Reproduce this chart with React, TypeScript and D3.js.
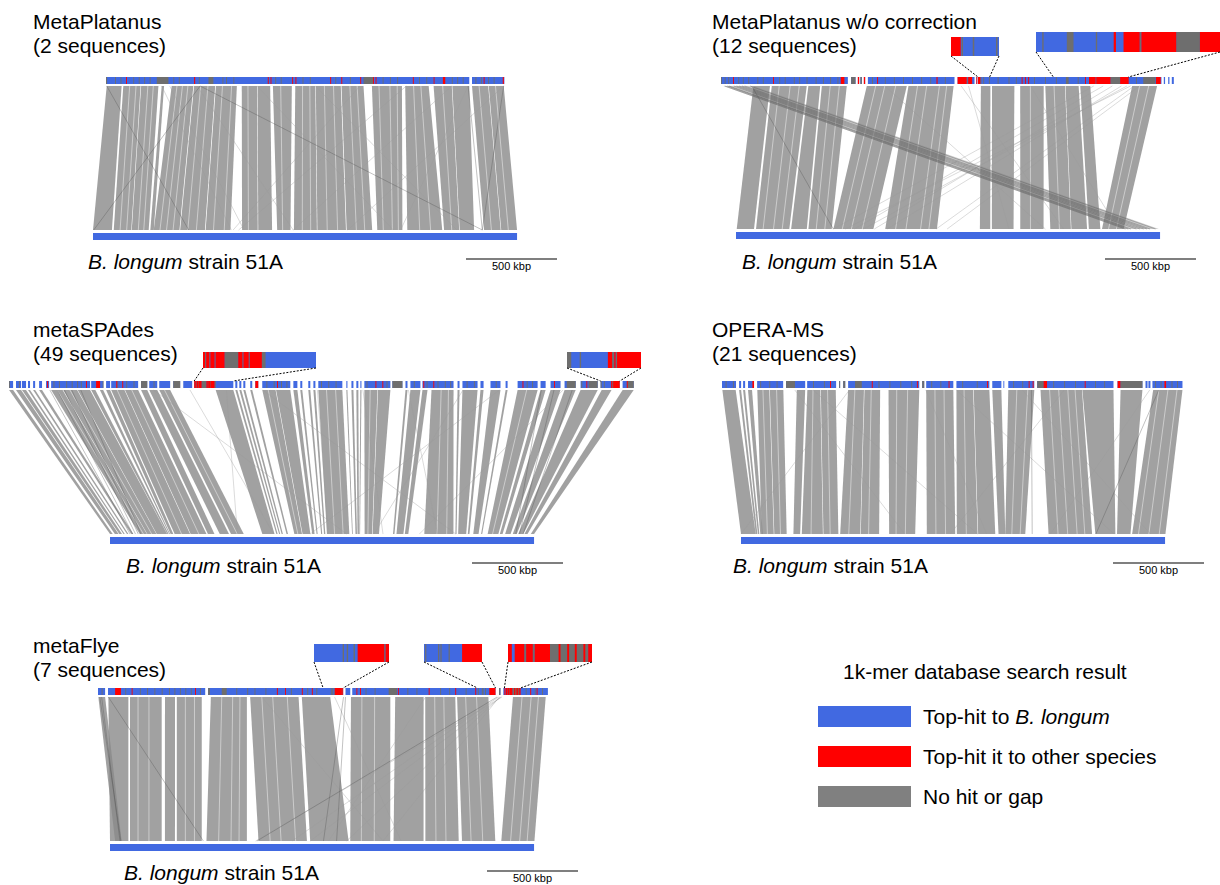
import React from 'react';
import * as d3 from 'd3';

// genome lengths / scale (kbp)
const REF_LEN = 2330;
const SCALE_KBP = 500;

// ---------- MetaPlatanus ----------
const P1_CONTIGS = [[0, 1996], [2011, 2189]];
const P1_RED = [[110, 115], [484, 490], [889, 893], [904, 909], [1023, 1028], [1041, 1045], [1232, 1237], [1293, 1298], [1397, 1402], [1467, 1472], [1481, 1486], [1686, 1691], [1800, 1805], [1851, 1864], [2075, 2080], [2180, 2186]];
const P1_GRAY = [[0, 6], [50, 53], [80, 83], [150, 153], [180, 183], [210, 213], [240, 243], [279, 343], [370, 373], [400, 403], [510, 514], [563, 590], [640, 643], [660, 663], [700, 703], [930, 933], [960, 963], [1080, 1083], [1120, 1123], [1260, 1263], [1340, 1343], [1415, 1467], [1520, 1523], [1560, 1563], [1600, 1603], [1720, 1723], [1760, 1763], [1900, 1904], [1930, 1933], [1960, 1963], [2030, 2033], [2060, 2063], [2100, 2103], [2130, 2133]];
const P1_BLOCKS = [[4, 86, 0, 104], [95, 190, 114, 210], [193, 288, 213, 306], [306, 319, 315, 334], [361, 480, 334, 475], [484, 600, 479, 615], [604, 719, 619, 755], [746, 830, 819, 905], [833, 902, 908, 984], [917, 1021, 1012, 1085], [1040, 1150, 1104, 1230], [1153, 1290, 1233, 1390], [1294, 1415, 1394, 1534], [1461, 1626, 1562, 1700], [1644, 1773, 1727, 1919], [1800, 1900, 1929, 2012], [1903, 1996, 2015, 2094], [2011, 2100, 2149, 2240], [2103, 2185, 2243, 2330]];
const P1_BREAKS = [[130, 149], [165, 185], [230, 249], [260, 279], [390, 368], [420, 404], [450, 440], [520, 521], [560, 568], [640, 662], [690, 721], [780, 854], [960, 1042], [1080, 1150], [1120, 1196], [1200, 1287], [1250, 1344], [1340, 1447], [1380, 1493], [1500, 1595], [1560, 1645], [1600, 1678], [1690, 1795], [1730, 1855], [1850, 1971], [2050, 2189], [2140, 2282]];
const P1_DARK = [[4, 526], [517, 4], [517, 2139], [2185, 2139], [1990, 2139]];
const P1_FAINT = [[306, 760], [350, 830], [1395, 770], [1650, 800], [1900, 1100], [1150, 2000], [830, 1650], [1990, 1690], [500, 1100], [2185, 1400]];

// ---------- MetaPlatanus w/o correction ----------
const P2_CONTIGS = [[0, 697], [715, 739], [752, 759], [766, 774], [785, 792], [807, 1283], [1300, 1393], [1403, 1408], [1412, 2420], [2433, 2440], [2457, 2464], [2477, 2488]];
const P2_RED = [[66, 70], [286, 290], [658, 678], [752, 759], [785, 792], [858, 862], [1184, 1190], [1300, 1350], [1358, 1380], [1403, 1408], [1412, 1425], [1652, 1656], [1670, 1673], [1688, 1691], [2000, 2005], [2022, 2058], [2062, 2140], [2193, 2240], [2390, 2416]];
const P2_GRAY = [[0, 4], [20, 23], [40, 43], [95, 98], [120, 123], [150, 153], [200, 203], [230, 233], [320, 323], [350, 353], [400, 403], [430, 433], [470, 473], [520, 523], [560, 563], [600, 603], [640, 643], [715, 739], [766, 774], [830, 833], [900, 903], [950, 953], [1000, 1003], [1050, 1053], [1100, 1103], [1150, 1153], [1230, 1233], [1350, 1355], [1426, 1428], [1441, 1443], [1472, 1474], [1520, 1523], [1580, 1583], [1620, 1623], [1720, 1723], [1780, 1783], [1840, 1843], [1895, 1910], [1960, 1963], [2058, 2062], [2140, 2193], [2280, 2283], [2320, 2387]];
const P2_BLOCKS = [[178, 269, 4, 99], [279, 471, 110, 293], [480, 545, 303, 389], [554, 691, 398, 526], [801, 1021, 535, 755], [1030, 1278, 820, 1104], [1428, 1480, 1340, 1397], [1489, 1612, 1406, 1525], [1644, 1773, 1562, 1690], [1782, 1890, 1727, 1840], [1893, 1965, 1843, 1929], [1974, 2029, 1939, 2002], [2259, 2396, 2011, 2130]];
const P2_BREAKS = [[320, 149], [380, 206], [430, 254], [600, 441], [650, 488], [850, 584], [900, 634], [960, 694], [1080, 877], [1130, 934], [1200, 1014], [1240, 1060], [1700, 1618], [1830, 1777], [2300, 2047], [2350, 2090]];
const P2_CROSS = [[13, 178, 2130, 2323]];
const P2_DARK = [[20, 2140], [45, 2170], [70, 2200], [100, 2240], [130, 2275], [160, 2305], [169, 535], [35, 2155], [85, 2220], [115, 2258]];
const P2_FAINT = [[2048, 535], [2100, 650], [2150, 760], [2200, 830], [2230, 700], [2250, 600], [2270, 1100], [2300, 1160], [1320, 1800], [1360, 1500], [900, 1700], [1700, 2100]];

// ---------- metaSPAdes ----------
const P3_CONTIGS = [[6, 28], [44, 72], [77, 99], [110, 121], [138, 149], [171, 187], [209, 226], [237, 451], [457, 523], [539, 561], [567, 715], [731, 765], [776, 820], [831, 891], [908, 946], [963, 1012], [1023, 1238], [1249, 1260], [1271, 1282], [1293, 1304], [1331, 1342], [1359, 1375], [1397, 1551], [1568, 1590], [1606, 1617], [1650, 1661], [1678, 1689], [1705, 1837], [1859, 1865], [1887, 1898], [1914, 1925], [1936, 1942], [1958, 2101], [2112, 2167], [2184, 2195], [2211, 2266], [2277, 2448], [2470, 2481], [2497, 2580], [2596, 2613], [2651, 2706], [2734, 2745], [2800, 2910], [2926, 2954], [2981, 3036], [3058, 3119], [3146, 3240], [3256, 3361], [3377, 3438]];
const P3_RED = [[215, 220], [429, 433], [484, 506], [595, 599], [628, 632], [1023, 1027], [1029, 1035], [1037, 1045], [1047, 1064], [1090, 1098], [1100, 1110], [1112, 1135], [1359, 1375], [1478, 1481], [2019, 2023], [2057, 2061], [2282, 2286], [2337, 2341], [2827, 2831], [3000, 3004], [3178, 3182], [3314, 3320], [3323, 3325], [3327, 3361], [3400, 3404]];
const P3_GRAY = [[6, 9], [60, 63], [250, 253], [280, 283], [320, 323], [350, 353], [380, 383], [400, 403], [520, 523], [600, 603], [650, 653], [690, 693], [731, 765], [800, 803], [908, 946], [1027, 1029], [1035, 1037], [1045, 1047], [1064, 1090], [1098, 1100], [1110, 1112], [1135, 1142], [1420, 1423], [1460, 1463], [1500, 1503], [1530, 1533], [1720, 1723], [1760, 1763], [1800, 1803], [1970, 1973], [2080, 2083], [2112, 2167], [2230, 2233], [2300, 2303], [2360, 2363], [2400, 2403], [2430, 2433], [2520, 2523], [2560, 2563], [2680, 2683], [2850, 2853], [2880, 2883], [3070, 3119], [3150, 3153], [3190, 3240], [3256, 3262], [3274, 3276], [3320, 3323], [3325, 3327], [3400, 3438]];
const P3_BLOCKS = [[6, 28, 0, 15], [44, 72, 27, 47], [77, 99, 51, 66], [110, 121, 74, 81], [138, 149, 93, 101], [171, 187, 116, 128], [237, 300, 163, 203], [303, 380, 205, 255], [383, 451, 257, 314], [457, 480, 315, 322], [505, 523, 325, 330], [539, 561, 333, 348], [567, 640, 355, 440], [643, 715, 443, 530], [731, 765, 538, 574], [776, 820, 603, 654], [831, 891, 665, 735], [1141, 1238, 837, 904], [1249, 1260, 914, 921], [1271, 1282, 929, 935], [1293, 1304, 943, 950], [1331, 1342, 970, 978], [1397, 1470, 1013, 1055], [1473, 1551, 1058, 1101], [1568, 1590, 1111, 1124], [1606, 1617, 1135, 1141], [1650, 1661, 1160, 1166], [1678, 1689, 1176, 1183], [1705, 1837, 1192, 1315], [1859, 1865, 1330, 1334], [1887, 1898, 1349, 1357], [1914, 1925, 1360, 1368], [1936, 1942, 1370, 1374], [1958, 2030, 1399, 1440], [2033, 2101, 1443, 1478], [2184, 2195, 1555, 1563], [2211, 2266, 1574, 1612], [2277, 2305, 1620, 1639], [2327, 2448, 1727, 1887], [2470, 2481, 1898, 1904], [2497, 2580, 1913, 1957], [2596, 2613, 1966, 1975], [2651, 2706, 1996, 2025], [2734, 2745, 2039, 2045], [2800, 2910, 2075, 2134], [2926, 2954, 2142, 2157], [2981, 3036, 2171, 2201], [3058, 3119, 2213, 2235], [3146, 3240, 2243, 2271], [3262, 3316, 2277, 2294], [3377, 3438, 2312, 2330]];
const P3_BREAKS = [[270, 184], [340, 229], [600, 393], [680, 488], [860, 699], [1750, 1234], [1800, 1281], [2380, 1797], [2420, 1850], [2850, 2102], [1430, 1032], [1990, 1417]];
const P3_DARK = [[230, 110], [270, 125], [310, 140], [350, 155], [400, 170], [2930, 2230], [3000, 2250], [3100, 2270]];
const P3_FAINT = [[1000, 900], [1400, 1900], [1700, 1200], [2500, 1450], [800, 1300], [1950, 1500], [2700, 1100], [1200, 700], [2200, 1800], [3050, 1700]];

// ---------- OPERA-MS ----------
const P4_CONTIGS = [[0, 77], [94, 105], [116, 127], [143, 176], [193, 336], [352, 457], [468, 627], [644, 649], [666, 677], [693, 1084], [1100, 1111], [1122, 1271], [1288, 1469], [1485, 1535], [1546, 1551], [1573, 1716], [1732, 2151], [2173, 2310], [2327, 2338], [2343, 2354], [2365, 2530]];
const P4_RED = [[167, 176], [594, 598], [823, 827], [1071, 1075], [1245, 1249], [1456, 1460], [1685, 1689], [1707, 1711], [1767, 1786], [1993, 1997], [2174, 2189], [2431, 2440]];
const P4_GRAY = [[20, 23], [60, 63], [210, 213], [260, 263], [300, 303], [352, 401], [500, 503], [560, 563], [644, 649], [666, 677], [731, 768], [860, 863], [920, 923], [980, 983], [1040, 1043], [1100, 1111], [1150, 1153], [1200, 1203], [1320, 1323], [1400, 1403], [1600, 1603], [1650, 1653], [1731, 1767], [1820, 1823], [1880, 1883], [1940, 1943], [2050, 2053], [2100, 2103], [2189, 2310], [2380, 2383], [2410, 2413], [2470, 2473], [2500, 2503]];
const P4_BLOCKS = [[2, 75, 0, 81], [94, 105, 81, 90], [116, 127, 93, 101], [143, 165, 106, 120], [194, 260, 114, 180], [263, 337, 183, 251], [411, 457, 288, 325], [469, 540, 334, 450], [543, 625, 453, 535], [693, 780, 545, 655], [783, 869, 658, 759], [915, 1084, 814, 957], [1122, 1271, 1021, 1177], [1288, 1380, 1186, 1300], [1383, 1469, 1303, 1397], [1485, 1535, 1415, 1452], [1573, 1716, 1452, 1562], [1750, 1978, 1690, 1929], [1980, 2151, 1947, 2057], [2190, 2310, 2066, 2140], [2369, 2530, 2149, 2332]];
const P4_BREAKS = [[225, 145], [300, 217], [500, 385], [580, 490], [730, 592], [820, 701], [960, 852], [1020, 903], [1170, 1071], [1220, 1124], [1330, 1238], [1620, 1488], [1680, 1534], [1800, 1742], [1850, 1795], [1900, 1847], [1940, 1889], [2400, 2184], [2450, 2241], [2500, 2298]];
const P4_DARK = [[1700, 1600], [2400, 1950]];
const P4_FAINT = [[500, 1300], [1120, 1350], [1880, 1150], [1288, 2050], [700, 0], [1650, 2250], [2350, 1700], [400, 900]];

// ---------- metaFlye ----------
const P5_CONTIGS = [[0, 39], [55, 589], [605, 1347], [1360, 1386], [1397, 2184], [2204, 2211], [2227, 2472]];
const P5_RED = [[94, 126], [185, 189], [533, 537], [983, 987], [1028, 1032], [1120, 1124], [1175, 1179], [1301, 1340], [1342, 1347], [1420, 1424], [1440, 1444], [1648, 1652], [1817, 1821], [1963, 1967], [2073, 2077], [2150, 2184], [2233, 2237], [2240, 2250], [2252, 2259], [2261, 2277], [2286, 2288], [2295, 2297], [2303, 2305], [2312, 2314], [2317, 2321], [2375, 2379], [2410, 2414]];
const P5_GRAY = [[20, 23], [150, 153], [230, 233], [270, 273], [310, 313], [350, 353], [390, 393], [420, 423], [450, 453], [480, 483], [510, 513], [560, 563], [605, 615], [680, 707], [760, 763], [820, 823], [860, 863], [920, 923], [1060, 1063], [1150, 1153], [1200, 1203], [1279, 1281], [1285, 1287], [1295, 1297], [1340, 1342], [1470, 1473], [1520, 1523], [1597, 1643], [1700, 1703], [1750, 1753], [1880, 1883], [1930, 1933], [2020, 2023], [2087, 2089], [2109, 2111], [2113, 2115], [2127, 2129], [2204, 2211], [2250, 2252], [2259, 2261], [2277, 2317], [2350, 2353], [2400, 2403], [2440, 2443]];
const P5_BLOCKS = [[2, 39, 28, 64], [57, 167, 0, 101], [176, 350, 110, 284], [368, 423, 302, 357], [433, 570, 367, 504], [620, 818, 530, 752], [836, 1102, 816, 1082], [1120, 1276, 1100, 1311], [1390, 1606, 1320, 1540], [1633, 1789, 1558, 1723], [1798, 1963, 1733, 1916], [1973, 2145, 1934, 2117], [2280, 2460, 2150, 2332]];
const P5_BREAKS = [[220, 154], [280, 214], [480, 414], [530, 464], [680, 597], [740, 665], [780, 709], [900, 880], [960, 940], [1040, 1020], [1450, 1381], [1520, 1452], [1850, 1791], [1900, 1846], [2020, 1984], [2080, 2048], [2330, 2201], [2380, 2251], [2420, 2292]];
const P5_DARK = [[10, 60], [20, 55], [57, 513], [1349, 1173], [2193, 807], [1360, 1245]];
const P5_FAINT = [[2220, 800], [2215, 1100], [2210, 1300], [2205, 1500], [2200, 1000], [1300, 1600], [1800, 1200], [900, 1500]];

const LEGEND = [
  { label: 'Top-hit to ', italic: 'B. longum', color: '#4169e1' },
  { label: 'Top-hit it to other species', italic: '', color: '#ff0000' },
  { label: 'No hit or gap', italic: '', color: '#808080' },
];

const BLUE = '#4169e1';
const RED = '#ff0000';
const DGRAY = '#6e6e6e';
const FONT = '"Liberation Sans", Arial, Helvetica, sans-serif';

const PANELS = [
  {
    title: 'MetaPlatanus', count: '(2 sequences)',
    contigs: P1_CONTIGS, red: P1_RED, gray: P1_GRAY, blocks: P1_BLOCKS, breaks: P1_BREAKS, cross: [], dark: P1_DARK, faint: P1_FAINT,
    insets: [],
    layout: { tx: 33, ty: 29, topX: 106, topY: 77, refX: 93, refY: 233, lx: 88, ly: 269, sx: 466, sy: 259 },
  },
  {
    title: 'MetaPlatanus w/o correction', count: '(12 sequences)',
    contigs: P2_CONTIGS, red: P2_RED, gray: P2_GRAY, blocks: P2_BLOCKS, breaks: P2_BREAKS, cross: P2_CROSS, dark: P2_DARK, faint: P2_FAINT,
    insets: [
      { range: [1412, 1476], box: { x: 951, y: 37, w: 48, h: 19 } },
      { range: [1826, 2238], box: { x: 1036, y: 32, w: 184, h: 20 } },
    ],
    layout: { tx: 712, ty: 29, topX: 721, topY: 77, refX: 736, refY: 232, lx: 742, ly: 269, sx: 1105, sy: 259 },
  },
  {
    title: 'metaSPAdes', count: '(49 sequences)',
    contigs: P3_CONTIGS, red: P3_RED, gray: P3_GRAY, blocks: P3_BLOCKS, breaks: P3_BREAKS, cross: [], dark: P3_DARK, faint: P3_FAINT,
    insets: [
      { range: [1023, 1238], box: { x: 203, y: 352, w: 113, h: 16 } },
      { range: [3256, 3361], box: { x: 567, y: 352, w: 74, h: 16 } },
    ],
    layout: { tx: 33, ty: 337, topX: 8, topY: 381, refX: 110, refY: 537, lx: 126, ly: 573, sx: 472, sy: 563 },
  },
  {
    title: 'OPERA-MS', count: '(21 sequences)',
    contigs: P4_CONTIGS, red: P4_RED, gray: P4_GRAY, blocks: P4_BLOCKS, breaks: P4_BREAKS, cross: [], dark: P4_DARK, faint: P4_FAINT,
    insets: [],
    layout: { tx: 712, ty: 337, topX: 722, topY: 381, refX: 741, refY: 537, lx: 733, ly: 573, sx: 1113, sy: 563 },
  },
  {
    title: 'metaFlye', count: '(7 sequences)',
    contigs: P5_CONTIGS, red: P5_RED, gray: P5_GRAY, blocks: P5_BLOCKS, breaks: P5_BREAKS, cross: [], dark: P5_DARK, faint: P5_FAINT,
    insets: [
      { range: [1237, 1347], box: { x: 314, y: 644, w: 75, h: 18 } },
      { range: [2085, 2184], box: { x: 424, y: 644, w: 58, h: 18 } },
      { range: [2233, 2321], box: { x: 508, y: 644, w: 84, h: 18 } },
    ],
    layout: { tx: 33, ty: 653, topX: 98, topY: 688, refX: 110, refY: 844, lx: 124, ly: 880, sx: 487, sy: 871 },
  },
];

const SCALE_PX = 91; // px per 500 kbp

function Segments({ segs, scale, y, h, color, lo, hi }) {
  return segs
    .filter(([s, e]) => e > lo && s < hi)
    .map(([s, e], i) => {
      const x0 = scale(Math.max(s, lo));
      const x1 = scale(Math.min(e, hi));
      return <rect key={i} x={x0} y={y} width={Math.max(x1 - x0, 0.9)} height={h} fill={color} />;
    });
}

function Panel({ p }) {
  const L = p.layout;
  const top = d3.scaleLinear().domain([0, SCALE_KBP]).range([L.topX, L.topX + SCALE_PX]);
  const ref = d3.scaleLinear().domain([0, SCALE_KBP]).range([L.refX, L.refX + SCALE_PX]);
  const yT = L.topY + 9;
  const yB = L.refY - 3;
  const poly = d3.line();
  const band = ([qs, qe, rs, re]) =>
    poly([[top(qs), yT], [top(qe), yT], [ref(re), yB], [ref(rs), yB]]) + 'Z';

  return (
    <g>
      <text x={L.tx} y={L.ty} fontSize={21}>{p.title}</text>
      <text x={L.tx} y={L.ty + 24} fontSize={21}>{p.count}</text>

      {/* alignment bands */}
      {p.blocks.map((b, i) => (
        <path key={'b' + i} d={band(b)} fill="#8a8a8a" fillOpacity={0.8} />
      ))}
      {p.breaks.map(([q, r], i) => (
        <line key={'w' + i} x1={top(q)} y1={yT} x2={ref(r)} y2={yB} stroke="#fff" strokeWidth={0.7} strokeOpacity={0.65} />
      ))}
      {p.cross.map((b, i) => (
        <path key={'c' + i} d={band(b)} fill="#8a8a8a" fillOpacity={0.45} />
      ))}
      {p.faint.map(([q, r], i) => (
        <line key={'f' + i} x1={top(q)} y1={yT} x2={ref(r)} y2={yB} stroke="#9a9a9a" strokeWidth={0.6} strokeOpacity={0.6} />
      ))}
      {p.dark.map(([q, r], i) => (
        <line key={'d' + i} x1={top(q)} y1={yT} x2={ref(r)} y2={yB} stroke="#555" strokeWidth={0.6} strokeOpacity={0.6} />
      ))}

      {/* assembly bar */}
      {p.contigs.map(([s, e], i) => (
        <g key={'k' + i}>
          <rect x={top(s)} y={L.topY} width={Math.max(top(e) - top(s), 0.9)} height={7} fill={BLUE} />
          <Segments segs={p.gray} scale={top} y={L.topY} h={7} color={DGRAY} lo={s} hi={e} />
          <Segments segs={p.red} scale={top} y={L.topY} h={7} color={RED} lo={s} hi={e} />
        </g>
      ))}

      {/* reference bar */}
      <rect x={ref(0)} y={L.refY} width={ref(REF_LEN) - ref(0)} height={7} fill={BLUE} />

      {/* zoomed insets */}
      {p.insets.map((ins, i) => {
        const [lo, hi] = ins.range;
        const b = ins.box;
        const zs = d3.scaleLinear().domain([lo, hi]).range([b.x, b.x + b.w]);
        return (
          <g key={'i' + i}>
            <rect x={b.x} y={b.y} width={b.w} height={b.h} fill={BLUE} />
            <Segments segs={p.gray} scale={zs} y={b.y} h={b.h} color={DGRAY} lo={lo} hi={hi} />
            <Segments segs={p.red} scale={zs} y={b.y} h={b.h} color={RED} lo={lo} hi={hi} />
            <line x1={b.x} y1={b.y + b.h} x2={top(lo)} y2={L.topY} stroke="#000" strokeWidth={1} strokeDasharray="2,1.5" />
            <line x1={b.x + b.w} y1={b.y + b.h} x2={top(hi)} y2={L.topY} stroke="#000" strokeWidth={1} strokeDasharray="2,1.5" />
          </g>
        );
      })}

      <text x={L.lx} y={L.ly} fontSize={21}>
        <tspan fontStyle="italic">B. longum</tspan> strain 51A
      </text>

      {/* scale bar */}
      <line x1={L.sx} y1={L.sy} x2={L.sx + (ref(SCALE_KBP) - ref(0))} y2={L.sy} stroke="#000" strokeWidth={1.2} />
      <text x={L.sx + SCALE_PX / 2} y={L.sy + 11} fontSize={11} textAnchor="middle">500 kbp</text>
    </g>
  );
}

export default function App() {
  return (
    <svg
      width={1220}
      height={885}
      style={{ position: 'absolute', left: 0, top: 0, background: '#fff' }}
      fontFamily={FONT}
    >
      <rect width={1220} height={885} fill="#fff" />
      {PANELS.map((p, i) => <Panel key={i} p={p} />)}

      {/* legend */}
      <text x={843} y={679} fontSize={21}>1k-mer database search result</text>
      {LEGEND.map((d, i) => (
        <g key={i}>
          <rect x={818} y={706 + i * 40} width={93} height={21} fill={d.color} />
          <text x={923} y={724 + i * 40} fontSize={21}>
            {d.label}
            {d.italic && <tspan fontStyle="italic">{d.italic}</tspan>}
          </text>
        </g>
      ))}
    </svg>
  );
}
